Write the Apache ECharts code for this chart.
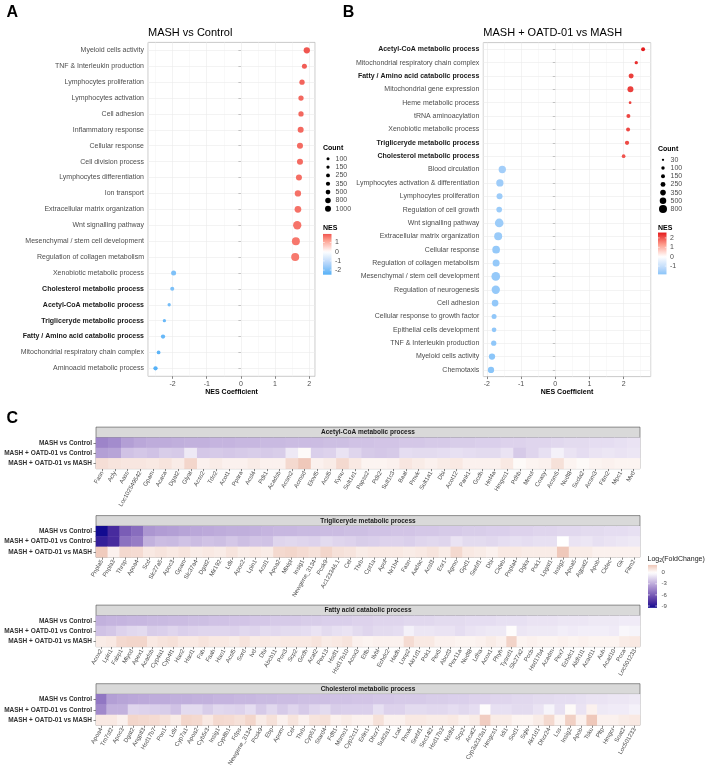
<!DOCTYPE html>
<html>
<head>
<meta charset="utf-8">
<script src="https://cdn.jsdelivr.net/npm/echarts@6/dist/echarts.min.js"></script>
<style>
html, body { margin: 0; padding: 0; background: #fff; }
#chart { width: 708px; height: 776px; }
</style>
</head>
<body>
<div id="chart"></div>
<script>
// ---------- A: MASH vs Control ----------
const termsA = ['Myeloid cells activity', 'TNF & Interleukin production', 'Lymphocytes proliferation',
  'Lymphocytes activation', 'Cell adhesion', 'Inflammatory response', 'Cellular response',
  'Cell division process', 'Lymphocytes differentiation', 'Ion transport',
  'Extracellular matrix organization', 'Wnt signalling pathway', 'Mesenchymal / stem cell development',
  'Regulation of collagen metabolism', 'Xenobiotic metabolic process', 'Cholesterol metabolic process',
  'Acetyl-CoA metabolic process', 'Trigliceryde metabolic process', 'Fatty / Amino acid catabolic process',
  'Mitochondrial respiratory chain complex', 'Aminoacid metabolic process'];
const nesA = [1.93, 1.86, 1.79, 1.76, 1.76, 1.75, 1.73, 1.73, 1.70, 1.67, 1.67, 1.65, 1.61, 1.59,
  -1.97, -2.01, -2.10, -2.24, -2.28, -2.41, -2.50];
const countA = [1140, 600, 700, 700, 700, 1000, 1000, 1000, 1000, 1140, 1340, 2300, 2100, 2100,
  600, 300, 150, 150, 380, 230, 380];

// ---------- B: MASH + OATD-01 vs MASH ----------
const termsB = ['Acetyl-CoA metabolic process', 'Mitochondrial respiratory chain complex',
  'Fatty / Amino acid catabolic process', 'Mitochondrial gene expression', 'Heme metabolic process',
  'tRNA aminoacylation', 'Xenobiotic metabolic process', 'Trigliceryde metabolic process',
  'Cholesterol metabolic process', 'Blood circulation', 'Lymphocytes activation & differentiation',
  'Lymphocytes proliferation', 'Regulation of cell growth', 'Wnt signalling pathway',
  'Extracellular matrix organization', 'Cellular response', 'Regulation of collagen metabolism',
  'Mesenchymal / stem cell development', 'Regulation of neurogenesis', 'Cell adhesion',
  'Cellular response to growth factor', 'Epithelial cells development', 'TNF & Interleukin production',
  'Myeloid cells activity', 'Chemotaxis'];
const nesB = [2.57, 2.37, 2.22, 2.20, 2.19, 2.14, 2.13, 2.10, 2.00, -1.55, -1.62, -1.63, -1.64, -1.64,
  -1.67, -1.73, -1.73, -1.74, -1.74, -1.76, -1.79, -1.79, -1.80, -1.85, -1.88];
const countB = [150, 90, 265, 410, 50, 150, 150, 180, 120, 650, 650, 410, 360, 960, 800, 730, 590,
  960, 870, 530, 265, 230, 300, 460, 460];

const boldTerms = ['Cholesterol metabolic process', 'Acetyl-CoA metabolic process',
  'Trigliceryde metabolic process', 'Fatty / Amino acid catabolic process'];
const countBreaksA = [100, 150, 250, 350, 500, 800, 1000];
const countBreaksB = [30, 100, 150, 250, 350, 500, 800];
const nesBreaksA = [1, 0, -1, -2];
const nesBreaksB = [2, 1, 0, -1];
const minorBreaks = [-2.5, -1.5, -0.5, 0.5, 1.5, 2.5];

// ---------- C: log2 fold change heatmaps ----------
const contrasts = ['MASH vs Control', 'MASH + OATD-01 vs Control', 'MASH + OATD-01 vs MASH'];
const fcBreaks = [0, -3, -6, -9];

const genesAcetyl = ['Fasn', 'Acly', 'Aass', 'Loc102549542', 'Gpam', 'Acaca', 'Dgat2', 'Glyat', 'Acss2',
  'Tdo2', 'Acot1', 'Ppara', 'Acsl4', 'Pdk1', 'Acadsb', 'Acsm2', 'Acmsd', 'Elovl5', 'Acsl5', 'Kynu',
  'Sult1e1', 'Papss2', 'Pdk2', 'Sult1c3', 'Baat', 'Pmvk', 'Sult1a1', 'Dbi', 'Acot12', 'Pank1', 'Gcdh',
  'Hnf4a', 'Hmgcs1', 'Pdhb', 'Mmut', 'Coasy', 'Acsm5', 'Nudt8', 'Sucla2', 'Acsm3', 'Fitm2', 'Mpc1', 'Mvd'];
const acetylCtrl = [-4.5, -4.2, -3.5, -3.2, -3.0, -3.0, -2.9, -2.8, -2.8, -2.7, -2.7, -2.6, -2.6, -2.5,
  -2.5, -2.4, -2.4, -2.4, -2.3, -2.3, -2.2, -2.2, -2.1, -2.1, -2.0, -2.0, -1.9, -1.9, -1.8, -1.8, -1.7,
  -1.7, -1.6, -1.6, -1.5, -1.5, -1.4, -1.3, -1.3, -1.2, -1.2, -1.1, -1.0];
const acetylOatdCtrl = [-3.5, -3.3, -2.2, -2.0, -2.2, -1.8, -1.9, -0.8, -2.0, -1.9, -2.0, -1.9, -1.8,
  -1.9, -1.8, -0.8, 0.2, -1.7, -1.6, -1.0, -1.5, -1.9, -2.0, -1.9, -1.2, -1.3, -1.3, -1.2, -1.1, -1.2,
  -1.3, -1.3, -1.0, -1.9, -1.5, -1.1, -0.5, -1.0, -1.2, -1.0, -0.9, -1.0, -0.9];
const acetylOatdMash = [1.2, 1.0, 0.9, 0.9, 0.8, 1.0, 0.7, 1.5, 0.5, 0.7, 0.5, 0.5, 0.7, 0.5, 0.5, 1.4,
  2.0, 0.5, 0.7, 1.4, 0.8, 0.4, 0.4, 0.5, 0.9, 0.7, 0.5, 0.7, 0.8, 0.5, 0.5, 0.5, 0.8, 0.2, 0.4, 0.5,
  1.1, 0.4, 0.2, 0.4, 0.5, 0.4, 0.4];

const genesTrig = ['Pnpla5', 'Pnpla3', 'Thrsp', 'Apoa4', 'Scd', 'Slc27a5', 'Apoc3', 'Gpam', 'Slc37a4',
  'Dgat2', 'Mir192', 'Ldlr', 'Apoc2', 'Lpin1', 'Acsl1', 'Apoa2', 'Mlxipl', 'Insig1', 'Newgene_3134',
  'Pcsk9', 'Ac123346.1', 'Cel', 'Thrb', 'Cpt1a', 'Apof', 'Nr1h4', 'Fasn', 'Aadac', 'Acsl3', 'Esr1',
  'Agmo', 'Gpd1', 'Srebf1', 'Dbi', 'Cideb', 'Pnpla4', 'Dgka', 'Pck1', 'Lpgat1', 'Insig2', 'Apoa5',
  'Agpat2', 'Apob', 'Cidec', 'Gk', 'Fitm2'];
const trigCtrl = [-9.5, -8.0, -6.0, -5.4, -3.8, -3.6, -3.5, -3.3, -3.2, -3.1, -3.0, -2.9, -2.9, -2.8,
  -2.7, -2.6, -2.6, -2.5, -2.5, -2.4, -2.4, -2.3, -2.3, -2.2, -2.2, -2.1, -2.1, -2.0, -2.0, -1.9, -1.9,
  -1.8, -1.8, -1.7, -1.7, -1.6, -1.6, -1.5, -1.5, -1.4, -1.4, -1.3, -1.3, -1.2, -1.2, -1.1];
const trigOatdCtrl = [-8.5, -8.0, -5.2, -4.8, -2.8, -2.4, -2.5, -2.2, -2.4, -2.2, -2.3, -2.0, -2.3, -2.1,
  -2.2, -1.5, -1.4, -1.5, -1.6, -1.3, -1.5, -1.6, -1.8, -1.7, -1.6, -1.6, -1.7, -1.5, -1.4, -1.5, -1.0,
  -1.3, -1.3, -1.4, -1.2, -1.1, -1.2, -1.1, -1.1, 0.0, -1.0, -0.9, -1.1, -1.0, -0.9, -0.8];
const trigOatdMash = [1.9, 0.5, 1.4, 1.3, 0.8, 1.0, 0.8, 1.0, 0.7, 0.8, 0.7, 1.0, 0.7, 0.8, 0.7, 1.4,
  1.5, 1.3, 1.1, 1.5, 1.1, 1.0, 0.7, 0.8, 0.8, 0.8, 0.7, 0.8, 1.0, 0.7, 1.4, 0.8, 0.7, 0.5, 0.8, 0.8,
  0.7, 0.7, 0.7, 2.0, 0.7, 0.7, 0.5, 0.5, 0.5, 0.5];

const genesFatty = ['Acox2', 'Lpin1', 'Fabp1', 'Mlycd', 'Apex1', 'Acadsb', 'Cyp4a1', 'Cyp4f1', 'Hao2',
  'Hacl1', 'Fah', 'Faah', 'Hao1', 'Acsl5', 'Sord', 'Ivd', 'Dbi', 'Abcb11', 'Pon3', 'Scp2', 'Gcdh',
  'Acat2', 'Pex13', 'Hsdl1', 'Hsd17b10', 'Acox3', 'Etfb', 'Ilvbl', 'Echdc2', 'Hadh', 'Lonp2', 'Akr1d1',
  'Pck1', 'Pex5', 'Abcd3', 'Pex11a', 'Nudt8', 'Ldha', 'Acox1', 'Phyh', 'Tysnd1', 'Slc27a2', 'Pccb',
  'Hsd17b4', 'Acadm', 'Pex7', 'Echdc1', 'Aldh1l1', 'Acad11', 'Auh', 'Acad10', 'Pcca', 'Loc501233'];
const fattyCtrl = [-2.8, -2.7, -2.7, -2.6, -2.6, -2.5, -2.5, -2.4, -2.4, -2.3, -2.3, -2.2, -2.2, -2.1,
  -2.1, -2.0, -2.0, -1.9, -1.9, -1.9, -1.8, -1.8, -1.7, -1.7, -1.7, -1.6, -1.6, -1.5, -1.5, -1.5, -1.4,
  -1.4, -1.4, -1.3, -1.3, -1.3, -1.2, -1.2, -1.2, -1.1, -1.1, -1.1, -1.0, -1.0, -1.0, -0.9, -0.9, -0.9,
  -0.8, -0.8, -0.8, -0.7, -0.7];
const fattyOatdCtrl = [-2.2, -2.0, -1.6, -1.4, -1.3, -1.8, -1.7, -1.5, -1.7, -1.6, -1.5, -1.5, -1.5,
  -1.6, -1.4, -1.5, -1.3, -1.4, -1.3, -1.3, -1.2, -1.0, -1.3, -1.1, -1.0, -1.3, -1.5, -1.3, -1.3, -1.2,
  -0.5, -0.9, -0.9, -1.0, -1.0, -1.2, -1.0, -0.9, -0.8, -0.8, 0.1, -0.9, -0.8, -0.8, -0.8, -0.6, -0.7,
  -0.6, -0.6, -0.6, -0.7, -0.3, -0.4];
const fattyOatdMash = [0.7, 0.8, 1.4, 1.5, 1.5, 0.8, 1.0, 1.1, 0.8, 0.8, 1.0, 0.8, 0.8, 0.7, 1.0, 0.7,
  0.8, 0.7, 0.8, 0.8, 0.8, 1.0, 0.7, 0.8, 1.0, 0.5, 0.4, 0.5, 0.5, 0.5, 1.3, 0.8, 0.8, 0.5, 0.5, 0.4,
  0.4, 0.5, 0.7, 0.5, 1.6, 0.4, 0.5, 0.4, 0.4, 0.5, 0.4, 0.5, 0.4, 0.4, 0.4, 0.7, 0.8];

const genesChol = ['Apoa4', 'Tm7sf2', 'Apoc3', 'Dgat2', 'Angptl3', 'Hsd17b7', 'Pon1', 'Ldlr', 'Cyp7a1',
  'Apoa2', 'Cyb5r3', 'Insig1', 'Cyp8b1', 'Fdps', 'Newgene_3134', 'Pcsk9', 'Ebp', 'Apom', 'Cel', 'Thrb',
  'Cyp51', 'Stard4', 'Fdft1', 'Msmo1', 'Cyp2c11', 'Erlin1', 'Dhcr7', 'Sult2a1', 'Lcat', 'Pmvk',
  'Srebf1', 'Sec14l2', 'Hsd17b3', 'Nsdhl', 'Scp2', 'Acat2', 'Cyp3a23/3a1', 'Hmgcs1', 'Idi1', 'Sod1',
  'Sqle', 'Akr1d1', 'Dhcr24', 'Lss', 'Insig2', 'Apob', 'Tsku', 'Pltp', 'Hmgcr', 'Soat2', 'Loc501233'];
const cholCtrl = [-5.0, -3.5, -3.3, -3.2, -3.1, -3.0, -3.0, -2.9, -2.9, -2.8, -2.8, -2.7, -2.7, -2.6,
  -2.6, -2.5, -2.5, -2.4, -2.4, -2.3, -2.3, -2.3, -2.2, -2.2, -2.1, -2.1, -2.0, -2.0, -1.9, -1.9, -1.9,
  -1.8, -1.8, -1.7, -1.7, -1.6, -1.6, -1.5, -1.5, -1.4, -1.4, -1.3, -1.3, -1.2, -1.2, -1.1, -1.0, -1.0,
  -0.9, -0.9, -0.8];
const cholOatdCtrl = [-4.3, -2.8, -2.8, -1.5, -1.6, -1.7, -1.8, -2.2, -1.3, -1.3, -1.8, -1.4, -1.5, -1.6,
  -1.2, -1.9, -1.4, -1.9, -1.5, -1.9, -1.5, -1.3, -1.8, -1.7, -1.7, -1.7, -1.1, -1.6, -1.6, -1.3, -1.3,
  -1.4, -1.4, -1.2, -1.4, -1.2, 0.1, -1.1, -1.1, -1.3, -1.3, -1.0, -0.4, -1.1, 0.2, -1.0, 0.5, -0.8,
  -0.7, -0.7, -0.5];
const cholOatdMash = [0.8, 0.8, 0.5, 1.5, 1.4, 1.3, 1.1, 0.7, 1.5, 1.4, 0.8, 1.4, 1.3, 1.1, 1.5, 0.7,
  1.1, 0.5, 1.0, 0.5, 1.0, 1.1, 0.5, 0.7, 0.5, 0.5, 1.1, 0.5, 0.5, 0.8, 0.8, 0.7, 0.7, 0.8, 0.5, 0.7,
  1.8, 0.7, 0.7, 0.4, 0.4, 0.7, 1.4, 0.4, 1.7, 0.5, 2.1, 0.5, 0.5, 0.7, 0.8];

const heatPanels = [
  { title: 'Acetyl-CoA metabolic process', genes: genesAcetyl, rows: [acetylCtrl, acetylOatdCtrl, acetylOatdMash], top: 437.7 },
  { title: 'Trigliceryde metabolic process', genes: genesTrig, rows: [trigCtrl, trigOatdCtrl, trigOatdMash], top: 526.2 },
  { title: 'Fatty acid catabolic process', genes: genesFatty, rows: [fattyCtrl, fattyOatdCtrl, fattyOatdMash], top: 615.7 },
  { title: 'Cholesterol metabolic process', genes: genesChol, rows: [cholCtrl, cholOatdCtrl, cholOatdMash], top: 694.3 }
];

// colour scales (gradient2 style: low - white - high)
const nesColors = ['#56B1F7', '#B7D6FA', '#FFFFFF', '#FE9D8D', '#E41A1C'];
const fcColors = ['#00008B', '#472B9E', '#7A5DB6', '#A891CF', '#D4C7E7', '#FFFFFF', '#EFC8BA'];
const fcMin = -10, fcMax = 2;

const sizeA = c => 1.61 + 0.139 * Math.sqrt(c);
const sizeB = c => 0.93 + 0.25 * Math.sqrt(c);

function hex2rgb(h) { return [1, 3, 5].map(i => parseInt(h.substr(i, 2), 16)); }
function colorAt(colors, min, max, v) {
  let t = (v - min) / (max - min) * (colors.length - 1);
  t = Math.max(0, Math.min(colors.length - 1, t));
  const i = Math.min(Math.floor(t), colors.length - 2);
  const f = t - i;
  const a = hex2rgb(colors[i]), b = hex2rgb(colors[i + 1]);
  return 'rgb(' + a.map((x, k) => Math.round(x + (b[k] - x) * f)).join(',') + ')';
}
// vertical gradient for a legend bar from value vTop down to vBottom
function barFill(colors, min, max, vTop, vBottom) {
  const stops = [];
  for (let k = 0; k <= 24; k++) {
    const o = k / 24;
    stops.push({ offset: o, color: colorAt(colors, min, max, vTop - (vTop - vBottom) * o) });
  }
  return { type: 'linear', x: 0, y: 0, x2: 0, y2: 1, colorStops: stops };
}

const font = 'Liberation Sans';
function txt(x, y, text, size, opts) {
  return Object.assign({
    type: 'text', x: x, y: y, silent: true,
    style: Object.assign({
      text: text, fontSize: size, fontFamily: font, fill: '#1A1A1A',
      align: 'left', verticalAlign: 'middle', textAlign: 'left', textVerticalAlign: 'middle'
    }, opts || {})
  });
}

function termAxis(gridIndex, terms) {
  return {
    type: 'category', gridIndex: gridIndex, data: terms, inverse: true,
    axisLine: { show: false },
    axisTick: { show: true, alignWithLabel: true, length: 2.5, lineStyle: { color: '#333', width: 0.6 } },
    axisLabel: {
      interval: 0, margin: 4, fontSize: 7, color: '#4D4D4D', fontFamily: font,
      formatter: t => boldTerms.includes(t) ? '{b|' + t + '}' : t,
      rich: { b: { fontWeight: 'bold', color: '#1A1A1A', fontSize: 7, fontFamily: font } }
    },
    splitLine: { show: false }
  };
}
function nesAxis(gridIndex, min, max) {
  return {
    type: 'value', gridIndex: gridIndex, min: min, max: max,
    name: 'NES Coefficient', nameLocation: 'middle', nameGap: 12,
    nameTextStyle: { fontWeight: 'bold', fontSize: 7, color: '#000', fontFamily: font },
    axisLine: { show: false },
    axisTick: { show: true, length: 2.5, lineStyle: { color: '#333', width: 0.6 } },
    axisLabel: { fontSize: 7, color: '#4D4D4D', margin: 4, showMinLabel: false, showMaxLabel: false },
    splitLine: { show: true, lineStyle: { color: '#EBEBEB', width: 0.6 } }
  };
}
function dotSeries(idx, terms, nes, counts, sizeFn, min, max) {
  return {
    type: 'scatter', xAxisIndex: idx, yAxisIndex: idx, z: 5,
    data: nes.map((v, i) => [v, i, counts[i]]),
    symbolSize: d => sizeFn(d[2]),
    itemStyle: { opacity: 1 },
    emphasis: { disabled: true },
    markLine: {
      silent: true, symbol: 'none', z: 1, animation: false, label: { show: false },
      data: minorBreaks.filter(v => v > min && v < max)
        .map(v => ({ xAxis: v, lineStyle: { color: '#F3F3F3', width: 0.5, type: 'solid' } }))
        .concat(terms.map((t, i) => ({ yAxis: i, lineStyle: { color: '#EBEBEB', width: 0.6, type: 'solid' } })))
    }
  };
}

const grids = [
  { left: 148, top: 42.4, width: 167, height: 333.9, show: true, borderColor: '#B3B3B3', borderWidth: 0.7 },
  { left: 483.3, top: 42.6, width: 167.4, height: 334, show: true, borderColor: '#B3B3B3', borderWidth: 0.7 }
];
const xAxes = [nesAxis(0, -2.72, 2.17), nesAxis(1, -2.105, 2.7925)];
const yAxes = [termAxis(0, termsA), termAxis(1, termsB)];
const series = [
  dotSeries(0, termsA, nesA, countA, sizeA, -2.72, 2.17),
  dotSeries(1, termsB, nesB, countB, sizeB, -2.105, 2.7925)
];

heatPanels.forEach((p, k) => {
  const gi = k + 2;
  grids.push({ left: 96, top: p.top, width: 544, height: 31, show: true, borderColor: '#666', borderWidth: 0.6 });
  xAxes.push({
    type: 'category', gridIndex: gi, data: p.genes, position: 'bottom',
    axisLine: { show: false },
    axisTick: { show: true, alignWithLabel: true, length: 2.5, lineStyle: { color: '#333', width: 0.6 } },
    axisLabel: { interval: 0, rotate: 60, fontSize: 6, color: '#4D4D4D', margin: 3, fontFamily: font },
    splitLine: { show: false }
  });
  yAxes.push({
    type: 'category', gridIndex: gi, data: contrasts, inverse: true,
    axisLine: { show: false },
    axisTick: { show: true, alignWithLabel: true, length: 2.5, lineStyle: { color: '#333', width: 0.6 } },
    axisLabel: { interval: 0, fontSize: 6.5, fontWeight: 'bold', color: '#333', margin: 4, fontFamily: font },
    splitLine: { show: false }
  });
  const data = [];
  p.rows.forEach((row, r) => row.forEach((v, i) => data.push([i, r, v])));
  series.push({
    type: 'heatmap', xAxisIndex: gi, yAxisIndex: gi, data: data,
    itemStyle: { borderWidth: 0 }, emphasis: { disabled: true }
  });
});

// ---------- graphic: panel letters, titles, legends, strips ----------
const g = [];
g.push(txt(6.5, 12.8, 'A', 16, { fontWeight: 'bold', fill: '#000' }));
g.push(txt(342.8, 12.8, 'B', 16, { fontWeight: 'bold', fill: '#000' }));
g.push(txt(6.5, 419, 'C', 16, { fontWeight: 'bold', fill: '#000' }));
g.push(txt(148, 32.6, 'MASH vs Control', 11, { fill: '#000' }));
g.push(txt(483.3, 32.6, 'MASH + OATD-01 vs MASH', 11, { fill: '#000' }));

function sizeLegend(x, y, breaks, sizeFn, step) {
  g.push(txt(x, y, 'Count', 7, { fontWeight: 'bold', fill: '#000' }));
  breaks.forEach((b, i) => {
    const cy = y + 10.5 + i * step;
    g.push({ type: 'circle', silent: true, shape: { cx: x + 5, cy: cy, r: sizeFn(b) / 2 }, style: { fill: '#000' } });
    g.push(txt(x + 12.5, cy, String(b), 7, { fill: '#4D4D4D' }));
  });
}
function nesLegend(x, y, nesVals, breaks, pxPerUnit, zeroY) {
  const vMax = Math.max(...nesVals), vMin = Math.min(...nesVals);
  const M = Math.max(Math.abs(vMax), Math.abs(vMin));
  const top = zeroY - vMax * pxPerUnit, bottom = zeroY - vMin * pxPerUnit;
  g.push(txt(x, y, 'NES', 7, { fontWeight: 'bold', fill: '#000' }));
  g.push({ type: 'rect', silent: true, shape: { x: x, y: top, width: 8.5, height: bottom - top },
    style: { fill: barFill(nesColors, -M, M, vMax, vMin) } });
  breaks.forEach(b => {
    const yy = zeroY - b * pxPerUnit;
    g.push({ type: 'line', silent: true, shape: { x1: x, y1: yy, x2: x + 1.7, y2: yy }, style: { stroke: '#fff', lineWidth: 0.6 } });
    g.push({ type: 'line', silent: true, shape: { x1: x + 6.8, y1: yy, x2: x + 8.5, y2: yy }, style: { stroke: '#fff', lineWidth: 0.6 } });
    g.push(txt(x + 12, yy, String(b), 7, { fill: '#4D4D4D' }));
  });
}
sizeLegend(323, 148.2, countBreaksA, sizeA, 8.35);
nesLegend(323, 227.7, nesA, nesBreaksA, 9.2, 251.7);
sizeLegend(658, 149.3, countBreaksB, sizeB, 8.2);
nesLegend(658, 227.7, nesB, nesBreaksB, 9.4, 256.7);

// facet strips
heatPanels.forEach(p => {
  g.push({ type: 'rect', silent: true, shape: { x: 96, y: p.top - 10.6, width: 544, height: 10.6 },
    style: { fill: '#D9D9D9', stroke: '#4D4D4D', lineWidth: 0.6 } });
  g.push(txt(368, p.top - 5.3, p.title, 6.5, { fontWeight: 'bold', fill: '#1A1A1A', align: 'center', textAlign: 'center' }));
});

// log2 fold change legend
const allFc = [].concat(...heatPanels.map(p => [].concat(...p.rows)));
const fcTop = Math.max(...allFc), fcBottom = Math.min(...allFc);
const fcZeroY = 572.7, fcPx = 3.7;
g.push({
  type: 'text', x: 647.5, y: 559, silent: true,
  style: {
    text: '{n|Log}{s|2}{n|(FoldChange)}', fontFamily: font, fill: '#1A1A1A',
    align: 'left', verticalAlign: 'middle', textAlign: 'left', textVerticalAlign: 'middle',
    rich: {
      n: { fontSize: 7, lineHeight: 9, fontFamily: font, fill: '#1A1A1A', color: '#1A1A1A' },
      s: { fontSize: 5, lineHeight: 9, verticalAlign: 'bottom', fontFamily: font, fill: '#1A1A1A', color: '#1A1A1A' }
    }
  }
});
const fcBarTop = fcZeroY - fcTop * fcPx, fcBarBottom = fcZeroY - fcBottom * fcPx;
g.push({ type: 'rect', silent: true, shape: { x: 648, y: fcBarTop, width: 9, height: fcBarBottom - fcBarTop },
  style: { fill: barFill(fcColors, fcMin, fcMax, fcTop, fcBottom) } });
fcBreaks.forEach(b => {
  const yy = fcZeroY - b * fcPx;
  g.push({ type: 'line', silent: true, shape: { x1: 648, y1: yy, x2: 649.8, y2: yy }, style: { stroke: '#fff', lineWidth: 0.6 } });
  g.push({ type: 'line', silent: true, shape: { x1: 655.2, y1: yy, x2: 657, y2: yy }, style: { stroke: '#fff', lineWidth: 0.6 } });
  g.push(txt(661.5, yy, String(b), 6, { fill: '#4D4D4D' }));
});

const chart = echarts.init(document.getElementById('chart'), null, { renderer: 'canvas' });
chart.setOption({
  animation: false,
  backgroundColor: '#fff',
  textStyle: { fontFamily: font },
  grid: grids,
  xAxis: xAxes,
  yAxis: yAxes,
  visualMap: [
    { show: false, type: 'continuous', seriesIndex: 0, dimension: 0, min: -2.5, max: 2.5, inRange: { color: nesColors } },
    { show: false, type: 'continuous', seriesIndex: 1, dimension: 0, min: -2.57, max: 2.57, inRange: { color: nesColors } },
    { show: false, type: 'continuous', seriesIndex: [2, 3, 4, 5], dimension: 2, min: fcMin, max: fcMax, inRange: { color: fcColors } }
  ],
  series: series,
  graphic: { elements: g }
});
</script>
</body>
</html>
